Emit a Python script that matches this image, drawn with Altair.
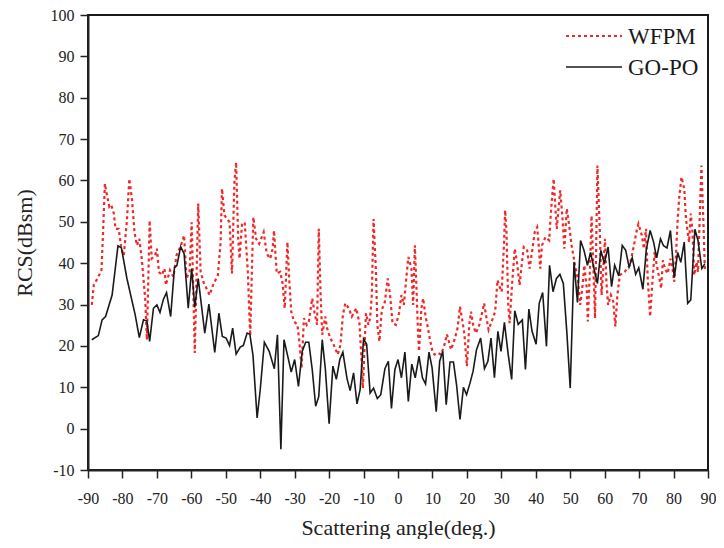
import altair as alt
import pandas as pd

# GO-PO series (black solid)
gopo_x = [-88.9, -87.0, -85.9, -84.9, -83.0, -81.3, -80.3, -78.7, -76.3, -75.1, -73.9, -72.9, -72.1, -71.0, -70.0,
          -69.1, -68.1, -67.2, -66.0, -64.9, -64.2, -63.1, -62.1, -60.9, -59.9, -59.0, -58.0, -56.1, -54.9, -53.2,
          -52.0, -51.0, -49.9, -48.9, -48.0, -47.0, -45.8, -44.9, -43.8, -43.0, -42.1, -40.9, -40.0, -38.8, -37.4,
          -35.9, -35.0, -34.0, -33.1, -31.9, -31.0, -30.0, -28.9, -27.8, -26.8, -25.9, -24.9, -23.9, -23.0, -22.0,
          -21.1, -20.0, -18.9, -17.9, -16.9, -16.0, -14.8, -13.9, -12.9, -11.9, -11.0, -10.0, -9.1, -8.1, -7.1,
          -6.0, -5.0, -3.8, -2.8, -1.9, -0.9, 0.0, 1.0, 2.0, 3.0, 4.0, 5.0, 6.1, 7.1, 8.0,
          9.0, 9.9, 11.1, 12.1, 13.0, 14.0, 15.1, 16.1, 17.0, 18.0, 19.0, 19.9, 20.9, 21.8, 22.8,
          24.0, 25.1, 26.1, 27.0, 28.0, 29.0, 29.9, 30.9, 32.0, 33.0, 33.9, 34.9, 36.1, 37.0, 38.0,
          38.9, 40.1, 41.0, 42.0, 43.1, 44.0, 45.0, 46.0, 47.0, 48.0, 49.0, 50.0, 51.1, 52.1, 53.0,
          54.0, 55.0, 55.9, 56.9, 57.9, 58.9, 59.9, 61.0, 62.0, 62.9, 64.1, 65.1, 66.1, 67.1, 68.0,
          69.0, 69.9, 71.1, 72.1, 73.2, 74.2, 75.1, 76.2, 77.1, 78.1, 79.1, 80.2, 81.2, 82.1, 83.1,
          84.1, 85.0, 86.2, 87.1, 88.2, 89.1]
gopo_y = [21.5, 22.5, 26.3, 27.1, 32.3, 44.2, 43.7, 36.3, 27.5, 22.0, 26.3, 26.0, 21.1, 29.1, 29.9,
          28.1, 31.3, 32.9, 27.1, 38.9, 39.4, 44.0, 42.3, 29.1, 38.7, 29.3, 36.3, 23.1, 30.1, 18.4,
          27.9, 22.3, 21.9, 20.1, 24.3, 18.0, 19.7, 20.1, 23.1, 22.8, 17.7, 2.6, 9.4, 20.9, 18.7,
          14.5, 22.7, -5.0, 21.5, 17.1, 13.7, 16.7, 10.2, 18.7, 20.9, 20.9, 14.3, 5.4, 7.8, 21.5,
          14.5, 1.2, 15.1, 11.9, 16.7, 18.5, 12.1, 9.2, 13.5, 6.0, 9.4, 21.7, 20.4, 8.6, 9.8,
          7.3, 8.2, 14.5, 16.3, 4.9, 14.3, 16.7, 12.3, 18.5, 6.6, 15.6, 12.3, 17.5, 12.3, 10.8,
          18.5, 14.7, 4.1, 16.3, 18.7, 5.8, 16.1, 16.1, 10.6, 2.2, 10.0, 8.2, 11.0, 13.9, 19.1,
          21.9, 14.5, 16.3, 21.9, 12.3, 23.5, 18.7, 25.7, 17.9, 11.9, 28.5, 25.2, 26.3, 14.3, 28.9,
          23.6, 20.4, 30.3, 32.9, 19.9, 39.5, 33.1, 36.3, 37.3, 35.1, 23.5, 9.8, 40.3, 30.5, 45.5,
          43.1, 39.5, 42.6, 38.7, 35.1, 43.1, 39.9, 43.9, 34.3, 39.5, 36.9, 44.3, 43.1, 39.1, 41.3,
          37.3, 38.9, 33.7, 43.4, 47.9, 45.1, 41.3, 45.9, 44.2, 43.7, 47.9, 36.5, 42.6, 40.2, 45.1,
          30.3, 31.1, 48.2, 45.5, 38.7, 39.9]

# WFPM series (red dotted)
wfpm_x = [-88.9, -88.3, -87.3, -86.1, -85.7, -85.1, -84.4, -83.8, -83.2, -82.5, -82.0, -81.1, -80.3, -79.6, -78.7,
          -78.0, -77.2, -76.5, -75.8, -75.1, -74.4, -73.4, -72.9, -72.1, -71.5, -70.5, -70.0, -69.4, -68.6, -67.8,
          -67.4, -66.2, -65.2, -64.3, -63.0, -62.1, -61.4, -60.5, -59.9, -59.0, -58.0, -57.3, -56.3, -55.6, -54.7,
          -53.7, -52.3, -51.5, -51.1, -50.4, -49.6, -48.9, -48.2, -47.5, -47.0, -46.4, -46.0, -45.3, -44.5, -43.6,
          -43.1, -42.9, -42.5, -42.0, -41.2, -40.3, -39.0, -38.1, -37.1, -36.4, -36.0, -35.2, -34.2, -33.5, -32.9,
          -32.1, -31.6, -31.0, -30.2, -29.2, -28.7, -28.0, -27.3, -26.5, -25.9, -24.9, -24.2, -23.5, -23.0, -22.5,
          -22.0, -21.1, -20.6, -19.7, -18.7, -17.5, -16.7, -16.0, -15.3, -14.3, -13.4, -12.1, -11.2, -10.5, -10.2,
          -9.3, -8.6, -8.1, -7.6, -7.1, -6.4, -6.0, -5.4, -4.7, -3.8, -3.0, -2.3, -1.6, -0.6, 0.3,
          1.0, 1.7, 2.4, 3.0, 3.9, 4.4, 4.9, 5.3, 5.8, 6.1, 6.8, 7.3, 8.0, 8.7, 9.2,
          10.0, 10.6, 11.6, 12.5, 13.5, 14.2, 15.4, 16.4, 17.3, 18.0, 18.8, 19.3, 19.7, 20.0, 20.7,
          21.2, 21.8, 22.6, 23.6, 24.3, 25.0, 25.7, 26.3, 27.2, 28.2, 28.9, 29.3, 30.1, 30.8, 31.1,
          31.5, 32.0, 32.4, 33.2, 33.9, 34.6, 35.3, 35.9, 36.5, 37.5, 38.2, 38.9, 39.7, 40.4, 40.9,
          41.3, 41.8, 42.8, 43.9, 44.2, 44.7, 45.2, 45.7, 46.1, 46.6, 47.1, 47.8, 48.3, 49.0, 49.7,
          50.4, 51.4, 52.2, 52.9, 53.5, 54.1, 54.8, 55.1, 55.7, 56.2, 56.7, 57.2, 57.9, 58.6, 59.1,
          59.6, 60.1, 60.5, 61.0, 61.8, 62.5, 63.1, 63.7, 64.4, 65.8, 67.3, 68.5, 69.2, 69.8, 70.8,
          71.4, 72.0, 72.5, 73.2, 73.8, 74.5, 75.2, 75.9, 76.4, 76.9, 77.5, 78.3, 79.1, 79.7, 80.2,
          80.7, 81.2, 81.7, 82.3, 83.1, 83.6, 84.1, 84.5, 85.0, 85.5, 86.0, 86.7, 87.1, 87.7, 88.1,
          88.7, 89.1]
wfpm_y = [29.9, 34.9, 36.2, 38.3, 45.9, 59.2, 56.0, 53.6, 54.0, 52.0, 48.3, 48.3, 43.5, 41.9, 50.3,
          60.4, 55.2, 47.5, 44.3, 45.9, 41.1, 31.5, 21.5, 50.3, 41.1, 41.9, 43.5, 37.9, 37.1, 38.7,
          34.7, 38.3, 36.7, 41.9, 44.3, 46.7, 36.3, 38.0, 49.9, 18.3, 54.4, 37.9, 35.0, 33.9, 32.3,
          34.7, 37.1, 45.1, 58.0, 51.6, 50.7, 49.9, 37.5, 59.6, 64.4, 46.0, 41.1, 49.3, 49.9, 37.9,
          26.7, 22.5, 35.5, 51.1, 45.9, 44.7, 47.5, 42.3, 41.1, 43.5, 47.9, 37.5, 37.9, 35.1, 29.1,
          45.1, 36.3, 28.3, 25.9, 25.1, 21.5, 14.7, 26.7, 25.1, 25.9, 31.5, 27.9, 25.1, 48.3, 33.1,
          22.7, 27.1, 24.3, 22.0, 20.3, 17.9, 20.3, 27.5, 30.3, 29.1, 27.1, 29.1, 25.5, 15.5, 9.8,
          27.9, 25.1, 26.7, 32.3, 50.7, 37.9, 25.1, 21.1, 28.7, 30.7, 36.3, 32.3, 25.5, 25.1, 27.9,
          32.3, 29.9, 36.3, 41.5, 38.7, 29.9, 44.3, 35.5, 23.5, 18.7, 29.1, 31.5, 27.1, 24.3, 21.9,
          18.7, 17.9, 18.3, 17.9, 20.3, 22.8, 19.1, 21.5, 24.3, 29.5, 25.5, 22.7, 18.3, 15.1, 25.1,
          28.3, 25.1, 23.1, 25.1, 27.6, 30.3, 26.7, 23.9, 25.9, 28.3, 35.9, 34.7, 33.1, 45.1, 52.8,
          47.5, 29.9, 25.5, 35.9, 43.5, 39.9, 34.7, 39.5, 43.9, 43.1, 38.7, 42.7, 47.5, 48.7, 43.9,
          38.7, 44.3, 46.3, 45.5, 49.9, 55.6, 60.4, 53.2, 48.3, 53.2, 57.6, 50.3, 43.5, 53.2, 49.1,
          44.3, 39.5, 36.3, 29.9, 33.9, 39.5, 33.9, 25.9, 37.9, 51.5, 39.5, 26.7, 63.6, 47.5, 32.3,
          38.7, 45.9, 35.5, 29.9, 32.3, 30.7, 24.7, 32.3, 37.1, 37.9, 39.5, 44.3, 47.5, 49.5, 46.7,
          43.5, 48.3, 36.3, 27.1, 34.7, 42.7, 39.1, 36.3, 33.9, 40.7, 38.7, 37.5, 41.1, 38.7, 35.5,
          41.9, 50.7, 56.4, 60.8, 58.0, 50.7, 47.5, 45.1, 52.0, 47.5, 37.1, 40.3, 37.9, 54.0, 63.6,
          49.1, 37.9]

legend_labels = ["WFPM", "GO-PO"]
x_ticks = list(range(-90, 91, 10))
y_ticks = list(range(-10, 101, 10))

RED = "#f02828"
BLACK = "#1a1a1a"
FONT = "Liberation Serif"

gopo = pd.DataFrame({"angle": gopo_x, "rcs": gopo_y})
wfpm = pd.DataFrame({"angle": wfpm_x, "rcs": wfpm_y})

x_enc = alt.X("angle:Q",
              scale=alt.Scale(domain=[-90, 90], nice=False, zero=False),
              axis=alt.Axis(values=x_ticks, title="Scattering angle(deg.)", grid=False,
                            labelExpr="'' + datum.value",
                            labelFontSize=16, labelPadding=12, tickSize=8, tickWidth=1.5,
                            titleFontSize=22, titleFontWeight="normal", titleY=64,
                            titleBaseline="alphabetic", labelFlush=False,
                            labelFont=FONT, titleFont=FONT))
y_enc = alt.Y("rcs:Q",
              scale=alt.Scale(domain=[-10, 100], nice=False, zero=False),
              axis=alt.Axis(values=y_ticks, title="RCS(dBsm)", grid=False,
                            labelExpr="'' + datum.value",
                            labelFontSize=16, labelPadding=6, tickSize=8, tickWidth=1.5,
                            titleFontSize=22, titleFontWeight="normal", titleX=-64,
                            titleBaseline="middle", labelFlush=False,
                            labelFont=FONT, titleFont=FONT))

line_wfpm = alt.Chart(wfpm).mark_line(color=RED, strokeWidth=2.2, strokeDash=[3, 3]).encode(
    x=x_enc, y=y_enc)
line_gopo = alt.Chart(gopo).mark_line(color=BLACK, strokeWidth=1.6).encode(
    x=x_enc, y=y_enc)

leg1 = pd.DataFrame({"label": [legend_labels[0]]})
leg2 = pd.DataFrame({"label": [legend_labels[1]]})

leg_rule1 = alt.Chart(leg1).mark_rule(color=RED, strokeWidth=2.2, strokeDash=[3, 3]).encode(
    x=alt.value(478), x2=alt.value(534), y=alt.value(21))
leg_rule2 = alt.Chart(leg2).mark_rule(color=BLACK, strokeWidth=1.6).encode(
    x=alt.value(478), x2=alt.value(534), y=alt.value(52))
leg_text1 = alt.Chart(leg1).mark_text(align="left", baseline="middle", font=FONT, fontSize=23,
                                      color=BLACK).encode(
    x=alt.value(540), y=alt.value(22), text="label:N")
leg_text2 = alt.Chart(leg2).mark_text(align="left", baseline="middle", font=FONT, fontSize=23,
                                      color=BLACK).encode(
    x=alt.value(540), y=alt.value(53), text="label:N")

chart = alt.layer(line_wfpm, line_gopo, leg_rule1, leg_rule2, leg_text1, leg_text2).properties(
    width=620, height=455,
    background="white",
    autosize=alt.AutoSizeParams(type="none"),
    padding={"left": 80, "top": 7, "right": 8, "bottom": 69},
).configure_view(
    stroke=BLACK, strokeWidth=2
).configure_axis(
    labelFont=FONT, titleFont=FONT, labelColor="#222222", titleColor="#222222",
    tickColor="#222222", domainColor="#222222", domainWidth=2
)

chart.save("out.html", embed_options={"renderer": "svg", "actions": False})
